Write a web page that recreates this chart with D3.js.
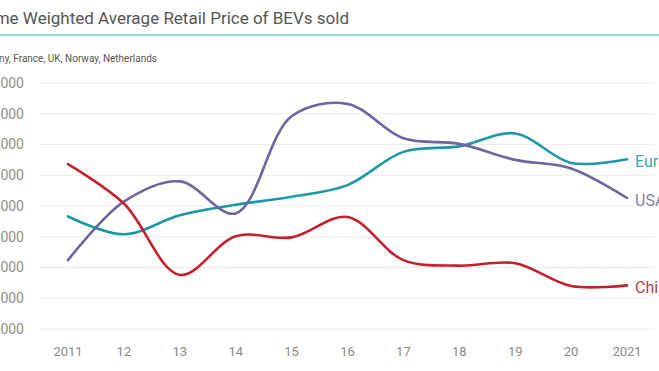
<!DOCTYPE html>
<html>
<head>
<meta charset="utf-8">
<script src="https://cdn.jsdelivr.net/npm/d3@7"></script>
<style>
    body { margin: 0; background: #fff; }
    svg { display: block; overflow: hidden; font-family: Roboto, "Noto Sans", sans-serif; }
</style>
</head>
<body>
<div id="chart"></div>
<script>
// Data (EUR)
const years = [2011, 2012, 2013, 2014, 2015, 2016, 2017, 2018, 2019, 2020, 2021];
const yearLabels = ['2011', '12', '13', '14', '15', '16', '17', '18', '19', '20', '2021'];
const europe = [33300, 30400, 33500, 35200, 36500, 38400, 43800, 44700, 46800, 42000, 42600];
const usa = [26200, 35700, 39000, 33800, 49600, 51600, 46000, 45100, 42500, 41100, 36300];
const china = [41800, 35400, 23800, 30100, 29900, 33200, 26200, 25300, 25700, 22000, 22100];
const yTicks = [15000, 20000, 25000, 30000, 35000, 40000, 45000, 50000, 55000];

const seriesList = [
    { name: 'Europe', values: europe, color: '#1b98a4', labelColor: '#44a4ae' },
    { name: 'USA', values: usa, color: '#6a66a0', labelColor: '#85829f' },
    { name: 'China', values: china, color: '#c4212b', labelColor: '#b43d44' }
];

const width = 659, height = 371;
const margin = { top: 83, right: 32, bottom: 42, left: 68 };

const svg = d3.select('#chart')
    .append('svg')
    .attr('width', width)
    .attr('height', height);

// Title and subtitle (cropped on the left like the source)
svg.append('text')
    .attr('x', 349)
    .attr('y', 24)
    .attr('text-anchor', 'end')
    .attr('fill', '#555')
    .attr('font-size', '17px')
    .text('Volume Weighted Average Retail Price of BEVs sold');

svg.append('line')
    .attr('x1', 0).attr('x2', width)
    .attr('y1', 35).attr('y2', 35)
    .attr('stroke', '#6cc9c2')
    .attr('stroke-width', 1.5);

svg.append('text')
    .attr('x', 157)
    .attr('y', 62)
    .attr('text-anchor', 'end')
    .attr('fill', '#555')
    .attr('font-size', '10px')
    .text('Europe: Germany, France, UK, Norway, Netherlands');

const x = d3.scaleLinear()
    .domain([2011, 2021])
    .range([margin.left, width - margin.right]);

const y = d3.scaleLinear()
    .domain([15000, 55000])
    .range([height - margin.bottom, margin.top]);

// Gridlines
svg.append('g')
    .selectAll('line')
    .data(yTicks)
    .join('line')
    .attr('x1', 40)
    .attr('x2', 655)
    .attr('y1', d => y(d))
    .attr('y2', d => y(d))
    .attr('stroke', '#ececec')
    .attr('stroke-width', 1);

// Y labels
svg.append('g')
    .selectAll('text')
    .data(yTicks)
    .join('text')
    .attr('x', 24)
    .attr('y', d => y(d))
    .attr('dy', '0.35em')
    .attr('text-anchor', 'end')
    .attr('fill', '#8e8e8e')
    .attr('font-size', '14px')
    .text(d => d3.format(',')(d));

// X labels
svg.append('g')
    .selectAll('text')
    .data(years)
    .join('text')
    .attr('x', d => x(d))
    .attr('y', 351)
    .attr('dy', '0.35em')
    .attr('text-anchor', 'middle')
    .attr('fill', '#8a8a8a')
    .attr('font-size', '13px')
    .text((d, i) => yearLabels[i]);

// Lines
const line = d3.line()
    .x((d, i) => x(years[i]))
    .y(d => y(d))
    .curve(d3.curveCatmullRom.alpha(0.5));

svg.append('g')
    .selectAll('path')
    .data(seriesList)
    .join('path')
    .attr('fill', 'none')
    .attr('stroke', d => d.color)
    .attr('stroke-width', 2.6)
    .attr('stroke-linecap', 'round')
    .attr('d', d => line(d.values));

// End labels
svg.append('g')
    .selectAll('text')
    .data(seriesList)
    .join('text')
    .attr('x', x(2021) + 8)
    .attr('y', d => y(d.values[d.values.length - 1]) + 2)
    .attr('dy', '0.35em')
    .attr('fill', d => d.labelColor)
    .attr('font-size', '16px')
    .text(d => d.name);
</script>
</body>
</html>
